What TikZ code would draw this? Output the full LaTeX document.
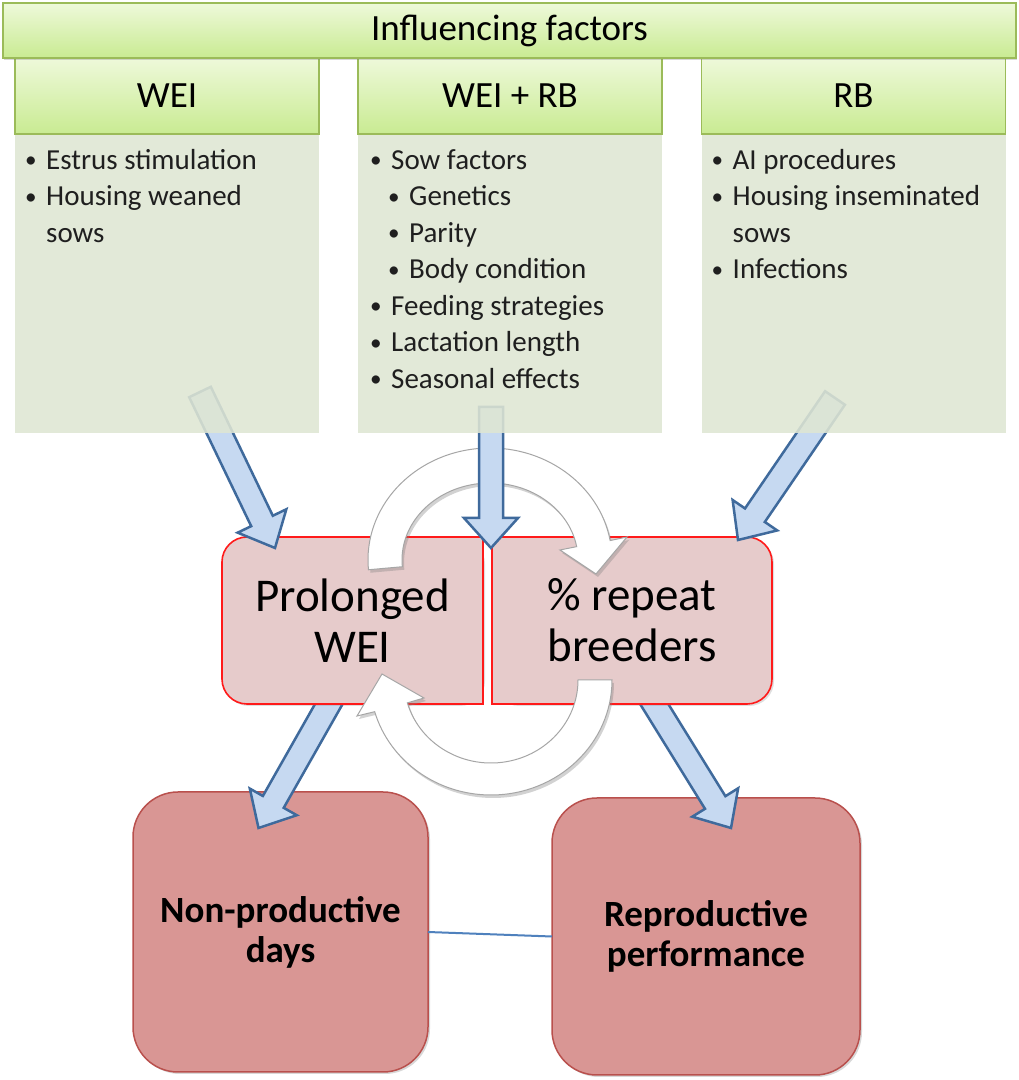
\documentclass[tikz,border=0pt]{standalone}
\usepackage{fontspec}
\setmainfont{Carlito}
\usetikzlibrary{calc,shadows}

\definecolor{headline}{HTML}{9BBB59}
\definecolor{headtop}{HTML}{EEF9DA}
\definecolor{headbot}{HTML}{C9EB92}
\definecolor{bodyfill}{HTML}{DFE6D3}
\definecolor{arrowfill}{HTML}{C6D9F1}
\definecolor{arrowline}{HTML}{3F6A9C}
\definecolor{midfill}{HTML}{E6CBCB}
\definecolor{midline}{HTML}{FF1A1A}
\definecolor{endfill}{HTML}{D99694}
\definecolor{endline}{HTML}{B9504D}
\definecolor{loopline}{HTML}{A6A6A6}
\definecolor{linkline}{HTML}{4F81BD}

\pgfdeclarelayer{back}
\pgfdeclarelayer{lower}
\pgfdeclarelayer{loops}
\pgfdeclarelayer{fore}
\pgfdeclarelayer{front}
\pgfsetlayers{back,lower,main,loops,fore,front}

\newcommand\itm{\makebox[21pt][l]{\raisebox{1.5pt}{\scalebox{.8}{\textbullet}}}}
\newcommand\subitm{\hspace*{18pt}\itm}
\newcommand\ind{\hspace*{21pt}}
\newcommand\fatarrow[2]{%
  \coordinate (ah) at ($(#2)!30pt!(#1)$);
  \filldraw[fat arrow] ($(#1)!12pt!90:(#2)$) -- ($(ah)!12pt!-90:(#1)$) -- ($(ah)!27pt!-90:(#1)$) -- (#2)
    -- ($(ah)!27pt!90:(#1)$) -- ($(ah)!12pt!90:(#1)$) -- ($(#1)!12pt!-90:(#2)$) -- cycle;}

\tikzset{
  banner/.style={draw=headline, line width=1.5pt, top color=headtop, bottom color=headbot,
    minimum width=1013pt, minimum height=55pt, inner sep=0pt, outer sep=0pt,
    font=\fontsize{37}{40}\selectfont,
    drop shadow={shadow xshift=1pt, shadow yshift=-2pt, opacity=.3}},
  head/.style={draw=headline, line width=1.5pt, top color=headtop, bottom color=headbot,
    minimum width=304pt, minimum height=76pt, inner sep=0pt, outer sep=0pt,
    font=\fontsize{37}{40}\selectfont},
  body/.style={fill=bodyfill, fill opacity=.88, minimum width=304pt, minimum height=299pt,
    inner sep=0pt, outer sep=0pt},
  list/.style={anchor=north west, align=left, inner sep=0pt, text=black!88,
    font=\fontsize{29}{36.5}\selectfont},
  midbox/.style={fill=midfill, rounded corners=25pt, minimum height=167pt, inner sep=0pt,
    outer sep=0pt, align=center, font=\fontsize{47}{51}\selectfont,
    drop shadow={shadow xshift=2pt, shadow yshift=-2pt, opacity=.25}},
  midedge/.style={draw=midline, line width=1.6pt},
  endbox/.style={draw=endline, line width=1.5pt, fill=endfill, rounded corners=45pt,
    inner sep=0pt, outer sep=0pt, align=center, font=\fontsize{37}{40}\selectfont\bfseries,
    drop shadow={shadow xshift=2pt, shadow yshift=-2pt, opacity=.3}},
  fat arrow/.style={fill=arrowfill, draw=arrowline, line width=2.5pt, line join=miter},
  loop arrow/.style={fill=white, draw=loopline, line width=1pt,
    drop shadow={shadow xshift=2pt, shadow yshift=-3pt, opacity=.35}},
  link/.style={draw=linkline, line width=2pt}
}

\begin{document}
\begin{tikzpicture}[x=1pt, y=1pt]
  \begin{pgfonlayer}{back}
    \fill[white] (0,0) rectangle (1019,1080);
  \end{pgfonlayer}
  \useasboundingbox (0,0) rectangle (1019,1080);

  % top: factors
  \begin{pgfonlayer}{front}
    \node[body] (b1) at (167,796.5) {};
    \node[body] (b2) at (510,796.5) {};
    \node[body] (b3) at (853.5,796.5) {};
    \node[head] (h1) at (167,984) {WEI};
    \node[head] (h2) at (510,984) {WEI + RB};
    \node[head] (h3) at (853.5,984) {RB};
    \node[banner] (inf) at (509.5,1049.5) {Influencing factors};

    \node[list] (l1) at ([shift={(10,-15)}]b1.north west)
      {\itm Estrus stimulation\\ \itm Housing weaned\\ \ind sows};
    \node[list] (l2) at ([shift={(12,-15)}]b2.north west)
      {\itm Sow factors\\ \subitm Genetics\\ \subitm Parity\\ \subitm Body condition\\
       \itm Feeding strategies\\ \itm Lactation length\\ \itm Seasonal effects};
    \node[list] (l3) at ([shift={(10,-15)}]b3.north west)
      {\itm AI procedures\\ \itm Housing inseminated\\ \ind sows\\ \itm Infections};
  \end{pgfonlayer}

  % middle: the two problems
  \node[midbox, minimum width=261pt] (wei) at (352.5,459.5) {Prolonged\\WEI};
  \node[midbox, minimum width=280pt] (rep) at (632,459.5) {\% repeat\\breeders};
  \fill[midfill] ([xshift=-25pt]wei.north east) rectangle ([yshift=-25pt]wei.north east)
                 ([xshift=-25pt]wei.south east) rectangle ([yshift=25pt]wei.south east)
                 ([xshift=25pt]rep.north west) rectangle ([yshift=-25pt]rep.north west)
                 ([xshift=25pt]rep.south west) rectangle ([yshift=25pt]rep.south west);
  \draw[midedge] (wei.north east) -- ([xshift=25pt]wei.north west)
    arc[start angle=90, end angle=180, radius=25pt] -- ([yshift=25pt]wei.south west)
    arc[start angle=180, end angle=270, radius=25pt] -- (wei.south east) -- cycle;
  \draw[midedge] (rep.north west) -- ([xshift=-25pt]rep.north east)
    arc[start angle=90, end angle=0, radius=25pt] -- ([yshift=25pt]rep.south east)
    arc[start angle=0, end angle=-90, radius=25pt] -- (rep.south west) -- cycle;

  % bottom: outcomes
  \begin{pgfonlayer}{back}
    \node[endbox, minimum width=295pt, minimum height=280pt] (np) at (280.5,148) {Non-productive\\days};
    \node[endbox, minimum width=308pt, minimum height=277pt] (rp) at (706,143.5) {Reproductive\\performance};
    \draw[link] (np.east) -- (rp.west);
  \end{pgfonlayer}

  % arrow ends
  \coordinate (s1) at ([shift={(33,41)}]b1.south);
  \coordinate (s2) at ([shift={(-19,26)}]b2.south);
  \coordinate (s3) at ([shift={(-18.5,35)}]b3.south);
  \coordinate (e1) at ([shift={(-77.5,-11)}]wei.north);
  \coordinate (e2) at ([shift={(-1,-11)}]rep.north west);
  \coordinate (e3) at ([shift={(106,-3)}]rep.north);
  \coordinate (s4) at ([shift={(-18,10)}]wei.south);
  \coordinate (s5) at ([shift={(16,10)}]rep.south);
  \coordinate (e4) at ([shift={(-22,-36)}]np.north);
  \coordinate (e5) at ([shift={(25,-30)}]rp.north);

  \begin{pgfonlayer}{fore}
    \fatarrow{s1}{e1}
    \fatarrow{s2}{e2}
    \fatarrow{s3}{e3}
  \end{pgfonlayer}
  \begin{pgfonlayer}{lower}
    \fatarrow{s4}{e4}
    \fatarrow{s5}{e5}
  \end{pgfonlayer}

  % the two turning arrows
  \coordinate (c1) at ($(wei.north east)!.5!(rep.north west)+(2.5,-23)$);
  \coordinate (c2) at ($(wei.south east)!.5!(rep.south west)+(3.5,24)$);
  \begin{pgfonlayer}{loops}
    \filldraw[loop arrow] ($(c1)+(185:122 and 112)$)
      arc[start angle=185, end angle=10, x radius=122, y radius=112]
      -- ($(c1)+(137,23)$) -- ($(c1)+(106,-14)$) -- ($(c1)+(70,10)$)
      -- ($(c1)+(10:88 and 77)$) arc[start angle=10, end angle=185, x radius=88, y radius=77] -- cycle;
    \filldraw[loop arrow] ($(c2)+(0:121 and 115)$)
      arc[start angle=0, end angle=-164, x radius=121, y radius=115]
      -- ($(c2)+(-134,-36)$) -- ($(c2)+(-109,6)$) -- ($(c2)+(-67,-18)$)
      -- ($(c2)+(-164:87 and 83)$) arc[start angle=-164, end angle=0, x radius=87, y radius=83] -- cycle;
  \end{pgfonlayer}
\end{tikzpicture}
\end{document}
